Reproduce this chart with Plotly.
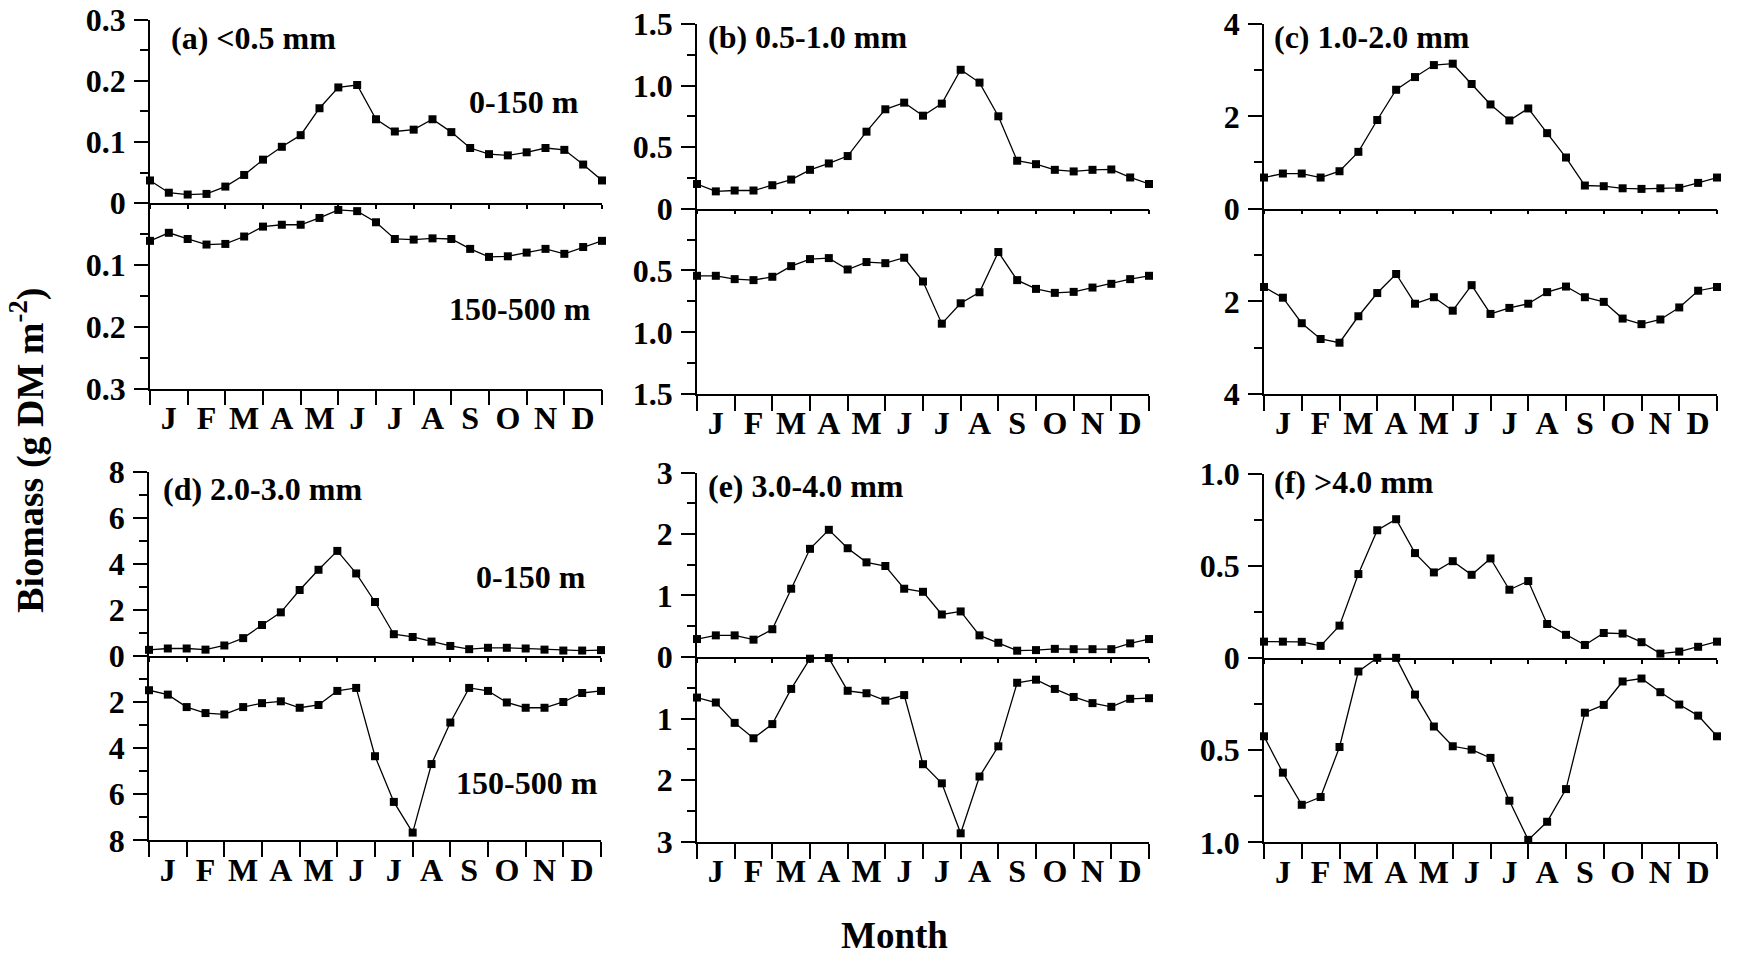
import plotly.graph_objects as go

# ---------------- data ----------------
month_labels = ["J", "F", "M", "A", "M", "J", "J", "A", "S", "O", "N", "D"]
month_centers = [0.5, 1.5, 2.5, 3.5, 4.5, 5.5, 6.5, 7.5, 8.5, 9.5, 10.5, 11.5]
month_edges = [0, 1, 2, 3, 4, 5, 6, 7, 8, 9, 10, 11, 12]
sample_pos = [0, 0.5, 1, 1.5, 2, 2.5, 3, 3.5, 4, 4.5, 5, 5.5, 6, 6.5, 7, 7.5,
              8, 8.5, 9, 9.5, 10, 10.5, 11, 11.5, 12]

panel_titles = ["(a) <0.5 mm", "(b) 0.5-1.0 mm", "(c) 1.0-2.0 mm",
                "(d) 2.0-3.0 mm", "(e) 3.0-4.0 mm", "(f) >4.0 mm"]

a_upper = [0.037, 0.017, 0.014, 0.015, 0.027, 0.046, 0.071, 0.092, 0.111, 0.155, 0.189, 0.193, 0.137,
           0.117, 0.120, 0.137, 0.116, 0.090, 0.080, 0.078, 0.083, 0.090, 0.087, 0.063, 0.037]
a_lower = [0.061, 0.048, 0.058, 0.067, 0.066, 0.054, 0.038, 0.035, 0.035, 0.024, 0.011, 0.013, 0.031,
           0.058, 0.059, 0.057, 0.058, 0.074, 0.087, 0.086, 0.080, 0.074, 0.082, 0.071, 0.061]
b_upper = [0.20, 0.14, 0.147, 0.147, 0.19, 0.236, 0.315, 0.367, 0.427, 0.625, 0.807, 0.861, 0.755,
           0.853, 1.128, 1.024, 0.75, 0.389, 0.361, 0.315, 0.302, 0.315, 0.318, 0.253, 0.20]
b_lower = [0.543, 0.543, 0.570, 0.578, 0.551, 0.465, 0.408, 0.400, 0.492, 0.432, 0.441, 0.397, 0.589,
           0.930, 0.765, 0.676, 0.351, 0.578, 0.649, 0.681, 0.673, 0.638, 0.608, 0.570, 0.543]
c_upper = [0.673, 0.76, 0.76, 0.673, 0.81, 1.23, 1.92, 2.575, 2.85, 3.11, 3.14, 2.70, 2.257,
           1.91, 2.17, 1.635, 1.107, 0.50, 0.485, 0.44, 0.427, 0.44, 0.45, 0.557, 0.673]
c_lower = [1.69, 1.92, 2.47, 2.81, 2.89, 2.32, 1.82, 1.41, 2.05, 1.91, 2.20, 1.65, 2.27,
           2.14, 2.05, 1.80, 1.68, 1.91, 2.01, 2.37, 2.49, 2.39, 2.13, 1.77, 1.69]
d_upper = [0.26, 0.32, 0.32, 0.27, 0.45, 0.77, 1.34, 1.89, 2.86, 3.74, 4.56, 3.58, 2.34,
           0.94, 0.82, 0.62, 0.43, 0.29, 0.35, 0.35, 0.32, 0.27, 0.23, 0.23, 0.25]
d_lower = [1.49, 1.68, 2.22, 2.48, 2.54, 2.22, 2.05, 1.97, 2.25, 2.13, 1.52, 1.39, 4.35,
           6.33, 7.66, 4.69, 2.89, 1.39, 1.52, 2.02, 2.25, 2.25, 2.00, 1.61, 1.52]
e_upper = [0.29, 0.35, 0.35, 0.28, 0.45, 1.11, 1.76, 2.07, 1.77, 1.54, 1.48, 1.11, 1.06,
           0.69, 0.74, 0.35, 0.23, 0.10, 0.11, 0.13, 0.125, 0.125, 0.125, 0.22, 0.29]
e_lower = [0.66, 0.74, 1.07, 1.32, 1.09, 0.52, 0.03, 0.02, 0.55, 0.59, 0.71, 0.62, 1.74,
           2.05, 2.86, 1.94, 1.45, 0.42, 0.37, 0.52, 0.65, 0.75, 0.81, 0.68, 0.67]
f_upper = [0.088, 0.088, 0.087, 0.065, 0.175, 0.455, 0.693, 0.753, 0.569, 0.464, 0.525, 0.451, 0.540,
           0.370, 0.417, 0.184, 0.125, 0.070, 0.135, 0.132, 0.085, 0.023, 0.034, 0.060, 0.088]
f_lower = [0.425, 0.622, 0.796, 0.754, 0.483, 0.074, 0.0, 0.0, 0.199, 0.372, 0.479, 0.497, 0.542,
           0.774, 0.986, 0.888, 0.711, 0.297, 0.255, 0.128, 0.112, 0.186, 0.253, 0.313, 0.425]

upper_series = [a_upper, b_upper, c_upper, d_upper, e_upper, f_upper]
lower_series = [a_lower, b_lower, c_lower, d_lower, e_lower, f_lower]

# axis scales per panel: max, labelled ticks (with text), minor ticks
axis_max = [0.3, 1.5, 4, 8, 3, 1.0]
major_vals = [[0.1, 0.2, 0.3], [0.5, 1.0, 1.5], [2, 4], [2, 4, 6, 8], [1, 2, 3], [0.5, 1.0]]
major_text = [["0.1", "0.2", "0.3"], ["0.5", "1.0", "1.5"], ["2", "4"], ["2", "4", "6", "8"],
              ["1", "2", "3"], ["0.5", "1.0"]]
minor_vals = [[0.05, 0.15, 0.25], [0.25, 0.75, 1.25], [1, 3], [1, 3, 5, 7],
              [0.5, 1.5, 2.5], [0.25, 0.75]]

# ---------------- layout geometry (pixels) ----------------
W, H = 1738, 961
# observed plotting area placement inside the page (vertical)
AREA_TOP, AREA_H = 18.5, 924.5
# left, right, top, zero-line, bottom
geom = [
    (150, 602, 20, 203.5, 389),
    (697, 1149, 24.5, 209, 394.5),
    (1264, 1717, 24.5, 209, 394.5),
    (149, 601, 472, 656, 840.5),
    (697, 1149, 473, 657, 842),
    (1264, 1717, 474, 658, 842.5),
]

FONT = "Liberation Serif, Times New Roman, serif"
TICKFONT = dict(family=FONT, size=32, color="black", weight="bold")
LW = 1.5

fig = go.Figure()
layout = dict(
    width=W, height=H, margin=dict(l=0, r=0, t=0, b=0),
    paper_bgcolor="white", plot_bgcolor="white", showlegend=False,
    font=dict(family=FONT, color="black"),
)

def px_x(v):
    return v / W

def px_y(v):
    return 1 - (v - AREA_TOP) / AREA_H

for i in range(6):
    left, right, top, zero, bottom = geom[i]
    xu, xl, xe = 3 * i + 1, 3 * i + 2, 3 * i + 3
    yu, yl = 2 * i + 1, 2 * i + 2
    xdom = [px_x(left), px_x(right)]
    k = lambda n, p: (p + ("" if n == 1 else str(n)))

    fig.add_trace(go.Scatter(
        x=sample_pos, y=upper_series[i], mode="lines+markers",
        line=dict(color="black", width=1.3),
        marker=dict(symbol="square", size=8, color="black"),
        xaxis=k(xu, "x"), yaxis=k(yu, "y"), cliponaxis=False))
    fig.add_trace(go.Scatter(
        x=sample_pos, y=lower_series[i], mode="lines+markers",
        line=dict(color="black", width=1.3),
        marker=dict(symbol="square", size=8, color="black"),
        xaxis=k(xl, "x"), yaxis=k(yl, "y"), cliponaxis=False))

    layout[k(xu, "xaxis")] = dict(
        domain=xdom, range=[0, 12], anchor=k(yu, "y"),
        showline=True, linecolor="black", linewidth=LW,
        tickmode="array", tickvals=month_edges, ticks="outside", ticklen=4,
        tickwidth=LW, tickcolor="black", showticklabels=False,
        showgrid=False, zeroline=False)
    layout[k(xe, "xaxis")] = dict(
        domain=xdom, range=[0, 12], anchor=k(yu, "y"), overlaying=k(xu, "x"),
        showline=False, tickmode="array", tickvals=month_edges, ticks="inside",
        ticklen=4, tickwidth=LW, tickcolor="black", showticklabels=False,
        showgrid=False, zeroline=False)
    layout[k(xl, "xaxis")] = dict(
        domain=xdom, range=[0, 12], anchor=k(yl, "y"),
        showline=True, linecolor="black", linewidth=LW,
        tickmode="array", tickvals=month_centers, ticktext=month_labels,
        ticks="", tickfont=TICKFONT, ticklabelstandoff=0,
        minor=dict(tickmode="array", tickvals=month_edges, ticks="outside",
                   ticklen=15, tickwidth=LW, tickcolor="black", showgrid=False),
        showgrid=False, zeroline=False)
    layout[k(yu, "yaxis")] = dict(
        domain=[px_y(zero), px_y(top)], range=[0, axis_max[i]], anchor=k(xu, "x"),
        showline=True, linecolor="black", linewidth=LW,
        tickmode="array", tickvals=[0] + major_vals[i], ticktext=["0"] + major_text[i],
        ticks="outside", ticklen=14, tickwidth=LW, tickcolor="black",
        tickfont=TICKFONT, ticklabelstandoff=2,
        minor=dict(tickmode="array", tickvals=minor_vals[i], ticks="outside",
                   ticklen=8, tickwidth=LW, tickcolor="black", showgrid=False),
        showgrid=False, zeroline=False)
    layout[k(yl, "yaxis")] = dict(
        domain=[px_y(bottom), px_y(zero)], range=[axis_max[i], 0], anchor=k(xl, "x"),
        showline=True, linecolor="black", linewidth=LW,
        tickmode="array", tickvals=major_vals[i], ticktext=major_text[i],
        ticks="outside", ticklen=14, tickwidth=LW, tickcolor="black",
        tickfont=TICKFONT, ticklabelstandoff=2,
        minor=dict(tickmode="array", tickvals=minor_vals[i], ticks="outside",
                   ticklen=8, tickwidth=LW, tickcolor="black", showgrid=False),
        showgrid=False, zeroline=False)

fig.update_layout(**layout)

# ---------------- annotations ----------------
title_pos = [(169, 38), (706, 37), (1272, 37), (161, 489), (706, 486), (1272, 482)]
ann = []
for (tx, ty), t in zip(title_pos, panel_titles):
    ann.append(dict(x=px_x(tx), y=px_y(ty), xref="paper", yref="paper", text=t,
                    showarrow=False, xanchor="left", yanchor="middle",
                    font=dict(family=FONT, size=32, color="black", weight="bold")))

depth_labels = [("0-150 m", 581, 102), ("150-500 m", 593, 309),
                ("0-150 m", 588, 577), ("150-500 m", 600, 783)]
for t, tx, ty in depth_labels:
    ann.append(dict(x=px_x(tx), y=px_y(ty), xref="paper", yref="paper", text=t,
                    showarrow=False, xanchor="right", yanchor="middle",
                    font=dict(family=FONT, size=32, color="black", weight="bold")))

ann.append(dict(x=px_x(28), y=px_y(451), xref="paper", yref="paper",
                text="Biomass (g DM m<sup>-2</sup>)", textangle=-90,
                showarrow=False, xanchor="center", yanchor="middle",
                font=dict(family=FONT, size=38, color="black", weight="bold")))
ann.append(dict(x=px_x(894), y=px_y(936), xref="paper", yref="paper",
                text="Month", showarrow=False, xanchor="center", yanchor="middle",
                font=dict(family=FONT, size=37, color="black", weight="bold")))
fig.update_layout(annotations=ann)

fig.write_html("out.html")
